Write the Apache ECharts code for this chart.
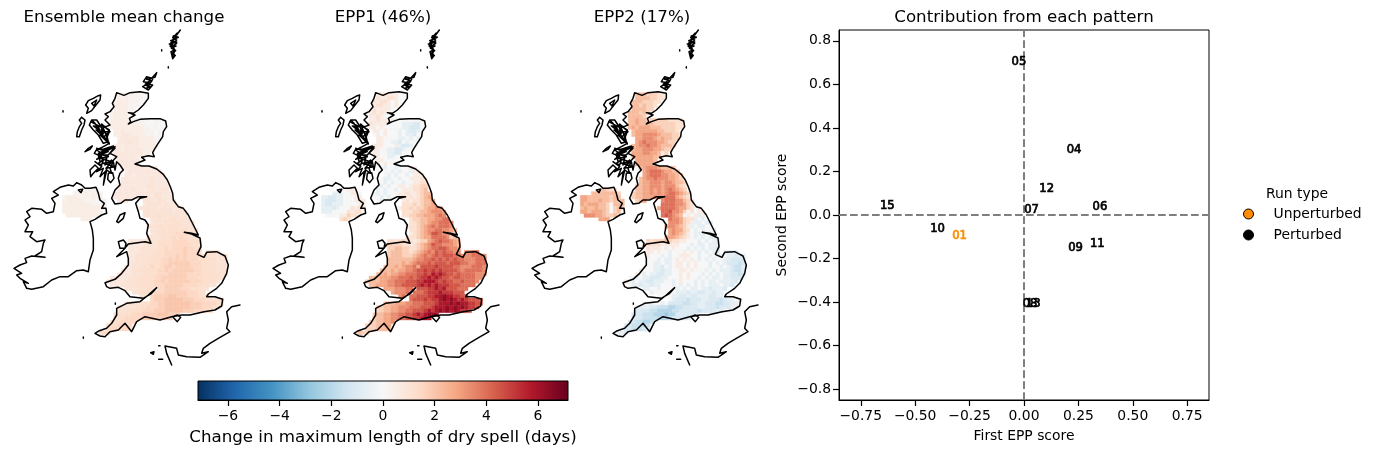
<!DOCTYPE html>
<html><head><meta charset="utf-8">
<style>html,body{margin:0;padding:0;background:#fff}#c{width:1376px;height:454px}</style>
<script src="https://cdn.jsdelivr.net/npm/echarts@6/dist/echarts.min.js"></script>
</head><body><div id="c"></div>
<script>
const titles = ['Ensemble mean change','EPP1 (46%)','EPP2 (17%)'];
const meanRows = ['      12111100','      21211110','     22221110','     2222111','     222211','    122221','    12222','    22222 111000110','    222222211100100','    222222222110101','     2232222211101','     2233322221101','      233333222211','      33343322221','     332333322222','     33233333222','     3333333322','     33333322','      333333','      33333','       2333333322','        2333333333','        33233333333','       333333334333','       3333333343333','      33333333443333','      33334333343344','     3333333334344333','     3333333344344333','      333    444344333','             344443433','            444443444333','             444444443444','             444454444434','               44444554444','               344454554444','              4445445554444','               4445455555444','               3445555656544','              44445456565544','         33334444455566665554','        333334444555566666554','         33344444556566676655','         33344445556666676665 4444','         334444555566676766655544444','         334444555667676766655555444','         344445555667777776665555444','        3344454655677677776665555444','       33344555556676777777665555444','      333344455556667777766665555544','    3333344455556677777776665555554','   3333344445555667677777766655554','    33344445555566677777666655544','        44445555 66777766655544','          44555 66677777766655','            45 6777788777666555','               67778888877766655555','        444445566778888888777666655','      4444455566677888888877766655','      44455556667778888877766655','     555556667777888777','     5556666677777777','    5556666','   5556666','   5666665',' 566'];
const epp1Rows = ['      11211100','      21122100','     21221010','     1221101','     211110','    121210','    11210','    11211 100000000','    211110000aaabb0','    110100000aabbb0','     1101000a0abba','     0101000a0aab0','      110000aa0a0a','      1100aab0a00','     1110001abba0','     1100aabba00','     1100aabb00','     1100aa00','      110000','      10100','       0a00a00011','        00a0a00a11','        0a0a00a0111','       0aa00a001112','       0a0a00a001122','      0a0a0011012233','      a0a00a01112234','     0a0a000112112344','     00a0a00121212345','      0a0    121223445','             222323445','            122323345565','             222334456665','             223344555676','               23344556677','               223445667776','              1223456767776','               2234566776654','               1234568876643','              22234557777634','         22223221233567877654','        333332212345687766654','         33443322345677887665','         34443323456768787766 6677','         344433345676787888776667776','         444444456677878787877666777','         444454567778788878887766777','        4445456675888898888776667776','       44454556678898989888876777776','      445455667778898x9x988787777666','    4445556677787899x9x988788777766','   3444556677788899xxx989887787776','    44555667788889x9x9x9998887777','        55566677 88899x9x888777','          56667 7778999x999888','            67 7788899xxyxx9988','               78889899xyxyx9x98887','        444555667778889xxxyxyxx9988','      3344556667778889xxxyxyxyx998','      33445566778889x9xyxyxyx998','     344556677889x9xyyx','     3445566778899xyx','    3344556','   3334455','   3334444',' 433'];
const epp2Rows = ['      44433321','      44443322','     44433322','     4434332','     444433','    444343','    44443','    44544 333332222','    445444433333322','    454555444333322','     4555555443332','     4556666544433','      556665454433','      56766655433','     456676654443','     45566655433','     5556655413','     55555544','      555554','      55555','       4566654443','        5677765544','        56777665543','       456676665543','       4556665665443','      44556665666432','      44556565676543','     3445565656776543','     3445556567775432','      345    677766432','             777766532','            577776553201','             778665302011','             7876540101a1','               7665322a0a0','               6665321aa0ab','              5665431a0aa00','               5655320a0a00a','               5654310aaa0a0','              45543210a0a0aa','         32333432211000a0a0aa','        3222211111000a0aa0aaa','         21110101000a0a0a0aab','         110100a0001010a0a0aa aaaa','         1000a0a0011100a00a0aa0aabaa','         000a0aa0101010a0a0a00aabbbb','         00aa0aa0110101000a0a0abbbcb','        000aab0a0110101000a00a0abcca','       1000aabaa001101000a0a0aaabcca','      10a0aabbaa00101000a0a0a0aabbcb','    00a0aabbbaa00010100a0a0aa0aabbb','   10a0aabbaaa00a01000a0a0aa0aaaab','    0aabaabaa000a0a0a0a0a0aaa0aab','        aa00a000 a0a0aa0aabaaab','          a0000 0aaabaabbaabaa','            00 0aabbabbaaabbaa0','               0abbbcbbbaabbbcbaa01','        a0a00a0bbbbccbbaabbbccbbaa0','      aaaabbcccddccbbbbaabbbcbbba1','      bbbbccddddccbbbbbcbbbbaa00','     bbbcccdddeddbbbbbb','     bbbccccdddcbbbbb','    bbccddc','   bbcccdc','   bbcccbb',' aab'];
const meanNI = ['      11211','    11121111',' 12221121211',' 122222111011',' 222222221101',' 222222222222',' 22222222221','  222222222','      222'];
const epp1NI = ['      00110','    aaa00110',' aabbaa00011',' abbbaa000111',' abbaaa000011',' aaaba0002121',' aaa00002122','  000011322','      232'];
const epp2NI = ['      34322','    44444443',' 55444444344',' 554445443434',' 545554430444',' 454454430343',' 55455543034','  666554334','      555'];
const meanStep = 0.25, eppStep = 0.56;
const codeValues = {a:-0.6,b:-1.1,c:-1.6,d:-2.1,e:-2.6,x:5.8,y:6.4};

const gbCoast = [[350,218],[372,226],[390,218],[420,215],[445,220],[445,235],[430,255],[415,270],[400,280],[385,278],[405,285],[388,295],[392,305],[385,312],[400,305],[420,298],[450,296],[480,296],[497,303],[500,320],[490,335],[488,350],[476,368],[465,385],[458,398],[463,410],[445,407],[425,412],[435,420],[405,432],[425,438],[447,438],[470,447],[490,463],[502,480],[510,498],[518,520],[520,540],[535,560],[550,565],[565,585],[580,615],[595,645],[575,640],[553,637],[575,642],[600,654],[603,680],[592,703],[612,712],[620,697],[650,695],[675,708],[685,735],[680,760],[665,790],[650,805],[625,822],[620,830],[645,830],[668,838],[665,858],[645,870],[612,875],[570,885],[545,885],[515,890],[480,900],[435,890],[410,905],[395,935],[375,910],[355,930],[330,935],[315,950],[300,948],[285,940],[298,932],[320,925],[335,910],[350,885],[350,865],[380,850],[420,845],[445,825],[470,803],[455,820],[430,835],[390,830],[375,812],[355,802],[330,805],[320,800],[315,788],[345,778],[365,760],[385,735],[385,715],[380,695],[350,710],[370,690],[385,672],[435,665],[453,670],[440,640],[445,615],[435,600],[420,595],[415,575],[407,550],[420,535],[440,530],[415,530],[395,540],[375,540],[362,550],[345,552],[335,535],[345,510],[360,495],[355,475],[360,460],[370,450],[360,435],[350,425],[345,450],[340,425],[330,445],[335,460],[320,450],[310,495],[305,490],[315,460],[325,435],[335,420],[315,435],[320,415],[300,425],[295,405],[325,405],[345,380],[325,390],[305,400],[290,390],[310,380],[328,370],[320,355],[328,335],[310,335],[300,315],[318,320],[330,315],[315,300],[325,290],[315,282],[330,275],[342,260],[337,250],[345,235],[350,218]];
const irelandCoast = [[230,488],[245,495],[255,505],[270,505],[288,502],[295,520],[300,540],[313,550],[305,565],[318,565],[320,580],[305,585],[285,598],[270,605],[277,630],[280,655],[280,690],[270,720],[265,755],[250,750],[230,752],[205,770],[180,770],[155,780],[130,800],[95,808],[80,805],[70,785],[85,790],[60,775],[50,765],[65,760],[42,745],[60,735],[80,728],[75,715],[95,708],[135,712],[105,708],[125,695],[130,670],[135,660],[110,665],[90,650],[98,635],[75,635],[85,615],[75,600],[90,590],[80,575],[95,565],[125,568],[140,580],[160,575],[165,550],[155,535],[175,525],[160,515],[180,502],[205,495],[220,498],[230,488]];
const islands = [
 [[541,30],[530,45],[520,48],[535,52],[512,62],[530,66],[508,72],[528,78],[514,84],[527,92],[516,100],[526,106],[518,116],[513,95],[524,90],[510,78],[530,60],[518,52],[535,38],[541,30]],
 [[530,40],[515,65],[530,70],[515,80],[525,90],[518,110],[522,85],[512,70],[528,50]],
 [[470,158],[455,175],[440,170],[430,185],[448,188],[428,200],[445,210],[458,195],[436,192],[452,180],[440,178],[465,172],[470,158]],
 [[440,175],[455,185],[435,195],[450,200],[440,205],[458,178]],
 [[302,225],[295,227],[280,235],[265,242],[257,255],[265,265],[260,280],[275,272],[288,255],[300,240],[302,225]],
 [[275,250],[290,240],[282,258],[275,250]],
 [[245,292],[238,300],[245,310],[238,320],[232,335],[230,350],[238,350],[245,330],[252,315],[255,300],[245,292]],
 [[275,300],[290,300],[300,315],[315,322],[328,330],[320,345],[325,365],[310,370],[295,345],[280,330],[268,315],[275,300],[285,310],[300,330],[290,320],[310,350],[305,330],[318,340]],
 [[272,305],[300,320],[280,318],[310,340],[288,330],[322,360],[300,345],[328,372],[312,350],[330,335],[305,312],[320,350]],
 [[255,395],[265,385],[277,378],[270,388],[255,395]],
 [[340,378],[310,388],[290,388],[283,400],[305,410],[290,418],[312,400],[325,395],[300,398],[340,378]],
 [[290,385],[320,395],[295,400],[325,410],[300,415],[335,425],[310,430],[345,440],[318,445],[350,410],[330,400],[345,385]],
 [[285,425],[305,440],[290,455],[310,445],[300,470],[315,455]],
 [[270,450],[285,435],[295,445],[280,460],[272,470],[270,450]],
 [[295,430],[310,420],[305,435],[295,430]],
 [[325,460],[338,458],[342,475],[332,488],[323,478],[325,460]],
 [[350,605],[360,585],[375,578],[370,595],[355,608],[350,605]],
 [[355,665],[370,660],[378,670],[375,685],[360,685],[355,665]],
 [[518,890],[532,885],[542,892],[532,905],[518,890]],
 [[235,510],[248,508],[243,518],[235,510]],
 [[720,855],[695,860],[680,875],[685,900],[680,925],[690,935],[655,955],[630,970],[610,985],[605,1000],[625,995],[600,1012],[560,1010],[535,1005],[530,985],[495,978],[500,1000],[515,1035]],
 [[452,998],[462,995],[460,1003],[452,998]],[[476,1018],[488,1018],[484,1024],[476,1018]],[[476,977],[480,977],[478,980],[476,977]],
 [[505,140],[508,142],[505,144],[505,140]],[[485,89],[488,91],[485,93],[485,89]],[[189,272],[192,274],[189,276],[189,272]],[[250,951],[253,953],[250,955],[250,951]],[[346,849],[349,851],[346,853],[346,849]]
];

const rdbuColors = ['#053061','#2166ac','#4393c3','#92c5de','#d1e5f0','#f7f7f7','#fddbc7','#f4a582','#d6604d','#b2182b','#67001f'];
const colorMin = -7.16, colorMax = 7.16;
const colorTicks = [-6,-4,-2,0,2,4,6];
const scoreXTicks = [-0.75,-0.5,-0.25,0,0.25,0.5,0.75];
const scoreYTicks = [-0.8,-0.6,-0.4,-0.2,0,0.2,0.4,0.6,0.8];
const perturbedRuns = ['04','12','15','07','06','10','09','11','08','13','05'];
const perturbedX = [0.23,0.104,-0.628,0.035,0.349,-0.397,0.237,0.337,0.028,0.042,-0.023];
const perturbedY = [0.303,0.126,0.046,0.026,0.041,-0.058,-0.146,-0.13,-0.406,-0.406,0.708];
const unperturbedRuns = ['01'];
const unperturbedX = [-0.296];
const unperturbedY = [-0.094];

const CELL = 11, COL0 = 286, ROW0 = 218, NICOL0 = 176, NIROW = 26;
function decode(ch, step){ return ch in codeValues ? codeValues[ch] : Number(ch) * step; }
function cells(rows, col0, row0, step){
  const out = [];
  rows.forEach((s, r) => { for (let i = 0; i < s.length; i++) { if (s[i] !== ' ') out.push([col0 + CELL * i, ROW0 + CELL * (row0 + r), decode(s[i], step)]); } });
  return out;
}
function coastData(){
  const out = [];
  [gbCoast, irelandCoast].concat(islands).forEach(p => { p.forEach(q => out.push(q)); out.push(['-','-']); });
  return out;
}
const mapData = [
  cells(meanRows,COL0,0,meanStep).concat(cells(meanNI,NICOL0,NIROW,meanStep)),
  cells(epp1Rows,COL0,0,eppStep).concat(cells(epp1NI,NICOL0,NIROW,eppStep)),
  cells(epp2Rows,COL0,0,eppStep).concat(cells(epp2NI,NICOL0,NIROW,eppStep))
];
const FONT = 'DejaVu Sans';
const fmtMinus = d => v => (v < 0 ? '\u2212' : '') + Math.abs(v).toFixed(d);

const grids = [], xAxes = [], yAxes = [], series = [];
[0,259,518].forEach((dx, i) => {
  grids.push({left:dx, top:20, width:260, height:350, containLabel:false});
  xAxes.push({gridIndex:i, type:'value', min:0, max:780, show:false});
  yAxes.push({gridIndex:i, type:'value', min:0, max:1050, inverse:true, show:false});
  series.push({type:'custom', name:titles[i], xAxisIndex:i, yAxisIndex:i, data:mapData[i], clip:false, z:2,
    encode:{x:0,y:1},
    renderItem:(params, api) => {
      const p = api.coord([api.value(0), api.value(1)]);
      const q = api.coord([api.value(0)+CELL, api.value(1)+CELL]);
      const c = api.visual('color');
      return {type:'rect', shape:{x:p[0],y:p[1],width:q[0]-p[0],height:q[1]-p[1]}, style:{fill:c,stroke:c,lineWidth:0.4}};
    }});
});
[0,1,2].forEach(i => {
  series.push({type:'line', name:'coast'+i, xAxisIndex:i, yAxisIndex:i, data:coastData(), showSymbol:false, symbol:'none', clip:false, z:5,
    silent:true, connectNulls:false, lineStyle:{color:'#000',width:1.5,join:'round',cap:'round'}, animation:false});
});
const blackLine = {show:true, onZero:false, lineStyle:{color:'#000',width:1}};
const tickStyle = {show:true, inside:false, length:6, lineStyle:{color:'#000',width:1.2}};
// colour bar
grids.push({left:198, top:381, width:370, height:19});
xAxes.push({gridIndex:3, type:'value', min:colorMin, max:colorMax,
  axisLine:blackLine, splitLine:{show:false},
  axisTick:Object.assign({customValues:colorTicks},tickStyle),
  axisLabel:{show:true, customValues:colorTicks, margin:9, color:'#000', fontFamily:FONT, fontSize:13.9, formatter:fmtMinus(0), showMinLabel:true, showMaxLabel:true},
  name:'Change in maximum length of dry spell (days)', nameLocation:'middle', nameGap:29, nameTextStyle:{color:'#000',fontFamily:FONT,fontSize:16.67}});
yAxes.push({gridIndex:3, type:'value', min:0, max:1, show:false});
series.push({type:'custom', name:'colorbar', xAxisIndex:3, yAxisIndex:3, data:[[colorMin,colorMax]], z:1, clip:false, encode:{x:[0,1]},
  renderItem:(params, api) => {
    const p = api.coord([api.value(0), 1]), q = api.coord([api.value(1), 0]);
    return {type:'rect', shape:{x:p[0],y:p[1],width:q[0]-p[0],height:q[1]-p[1]},
      style:{stroke:'#000',lineWidth:1,fill:{type:'linear',x:0,y:0,x2:1,y2:0,colorStops:rdbuColors.map((c,k)=>({offset:k/(rdbuColors.length-1),color:c}))}}};
  }});
// score scatter
grids.push({left:839, top:30, width:370, height:370, show:true, borderColor:'#000', borderWidth:1, backgroundColor:'transparent'});
xAxes.push({gridIndex:4, type:'value', min:-0.85, max:0.85, splitLine:{show:false}, axisLine:blackLine,
  axisTick:Object.assign({customValues:scoreXTicks},tickStyle),
  axisLabel:{customValues:scoreXTicks, margin:9, color:'#000', fontFamily:FONT, fontSize:13.9, formatter:fmtMinus(2)},
  name:'First EPP score', nameLocation:'middle', nameGap:29, nameTextStyle:{color:'#000',fontFamily:FONT,fontSize:13.9}});
yAxes.push({gridIndex:4, type:'value', min:-0.85, max:0.85, splitLine:{show:false}, axisLine:blackLine,
  axisTick:Object.assign({customValues:scoreYTicks},tickStyle),
  axisLabel:{customValues:scoreYTicks, margin:8, color:'#000', fontFamily:FONT, fontSize:13.9, formatter:fmtMinus(1)},
  name:'Second EPP score', nameLocation:'middle', nameGap:50, nameTextStyle:{color:'#000',fontFamily:FONT,fontSize:13.9}});
const pts = (xs,ys,ns) => xs.map((x,i)=>[x,ys[i],ns[i]]);
const labelStyle = c => ({show:true, position:'inside', offset:[0,1], formatter:p=>p.value[2], color:c, fontFamily:FONT, fontSize:11.6, textBorderColor:c, textBorderWidth:0.7});
series.push({type:'scatter', name:'Perturbed', xAxisIndex:4, yAxisIndex:4, z:6, symbolSize:0, data:pts(perturbedX,perturbedY,perturbedRuns), label:labelStyle('#000'), itemStyle:{color:'#000',opacity:1},
  markLine:{silent:true, symbol:'none', label:{show:false}, animation:false, lineStyle:{color:'#7f7f7f',width:2,type:[7.7,3.3]}, data:[{xAxis:0},{yAxis:0}]}});
series.push({type:'scatter', name:'Unperturbed', xAxisIndex:4, yAxisIndex:4, z:6, symbolSize:0, data:pts(unperturbedX,unperturbedY,unperturbedRuns), label:labelStyle('#ff8c00'), itemStyle:{color:'#ff8c00',opacity:1}});

const titleStyle = {fontFamily:FONT,fontSize:16.67,fontWeight:'normal',color:'#000'};
const chart = echarts.init(document.getElementById('c'), null, {renderer:'canvas'});
chart.setOption({
  animation:false, backgroundColor:'#fff', textStyle:{fontFamily:FONT},
  title:[
    {text:titles[0], left:124, top:9, padding:0, textAlign:'center', textStyle:titleStyle},
    {text:titles[1], left:383, top:9, padding:0, textAlign:'center', textStyle:titleStyle},
    {text:titles[2], left:642, top:9, padding:0, textAlign:'center', textStyle:titleStyle},
    {text:'Contribution from each pattern', left:1024, top:9, padding:0, textAlign:'center', textStyle:titleStyle},
    {text:'Run type', left:1297, top:187, padding:0, textAlign:'center', textStyle:{fontFamily:FONT,fontSize:13.9,fontWeight:'normal',color:'#000'}}
  ],
  grid:grids, xAxis:xAxes, yAxis:yAxes, series:series,
  visualMap:[{type:'continuous', show:false, seriesIndex:[0,1,2], dimension:2, min:colorMin, max:colorMax, inRange:{color:rdbuColors}}],
  legend:{left:1243, top:207, padding:0, orient:'vertical', itemWidth:10, itemHeight:10, itemGap:7, selectedMode:false, icon:'circle',
    textStyle:{fontFamily:FONT,fontSize:13.9,color:'#000',padding:[0,0,0,15]},
    data:[{name:'Unperturbed',itemStyle:{color:'#ff8c00',borderColor:'#000',borderWidth:1,opacity:1}},{name:'Perturbed',itemStyle:{color:'#000',borderColor:'#000',borderWidth:1,opacity:1}}]}
});
</script></body></html>
